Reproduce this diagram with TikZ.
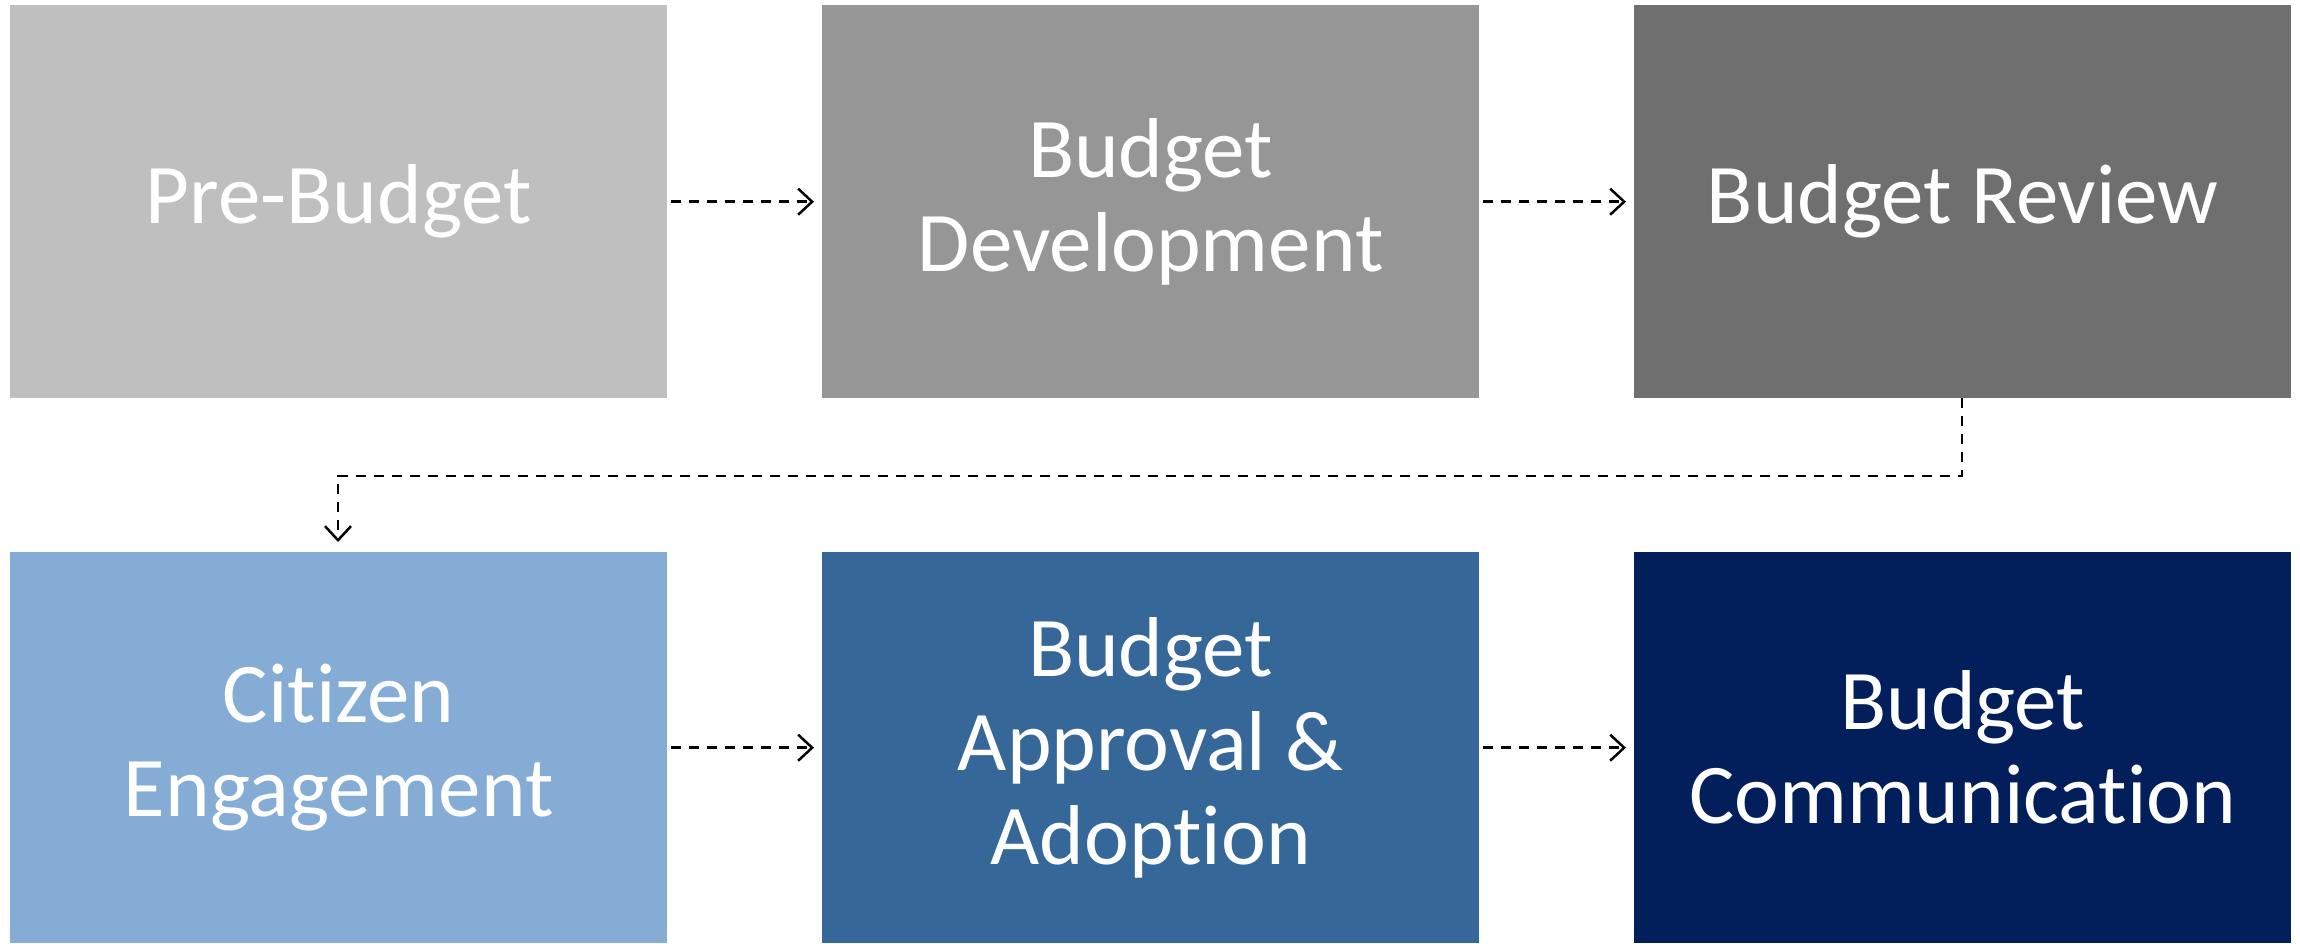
\documentclass[tikz,border=0pt]{standalone}
\usepackage{fontspec}
\setmainfont{Carlito}[Ligatures=NoCommon]
\usetikzlibrary{arrows.meta}
\definecolor{c1}{HTML}{BFBFBF}
\definecolor{c2}{HTML}{969696}
\definecolor{c3}{HTML}{6F6F6F}
\definecolor{c4}{HTML}{84ACD5}
\definecolor{c5}{HTML}{356799}
\definecolor{c6}{HTML}{021F5C}
\tikzset{
  stagebox/.style={minimum width=657pt, minimum height=393pt, inner sep=0pt, text=white,
    font=\fontsize{85}{94}\selectfont, align=center, anchor=north west},
  flow/.style={draw=black, line width=2.5pt, dash pattern=on 10pt off 8pt,
    -{Straight Barb[length=14pt,width=26pt,line width=2.5pt]}}
}
\begin{document}
\begin{tikzpicture}[x=1pt,y=-1pt]
\useasboundingbox (0,0) rectangle (2300,943);
\node[stagebox, fill=c1] (b1) at (10,5) {Pre-Budget};
\node[stagebox, fill=c2] (b2) at (822,5) {Budget\\Development};
\node[stagebox, fill=c3] (b3) at (1634,5) {Budget Review};
\node[stagebox, fill=c4, minimum height=391pt] (b4) at (10,552) {Citizen\\Engagement};
\node[stagebox, fill=c5, minimum height=391pt] (b5) at (822,552) {Budget\\Approval \&\\Adoption};
\node[stagebox, fill=c6, minimum height=391pt] (b6) at (1634,552) {Budget\\Communication};
\coordinate (k1) at (1962,476);
\coordinate (k2) at (338,476);
\draw[flow] ([xshift=4pt]b1.east) -- ([xshift=-8pt]b2.west);
\draw[flow] ([xshift=4pt]b2.east) -- ([xshift=-8pt]b3.west);
\draw[flow] ([xshift=4pt]b4.east) -- ([xshift=-8pt]b5.west);
\draw[flow] ([xshift=4pt]b5.east) -- ([xshift=-8pt]b6.west);
\draw[flow] (b3.south -| k1) -- (k1) -- (k2) -- ([yshift=10pt]b4.north -| k2);
\end{tikzpicture}
\end{document}
